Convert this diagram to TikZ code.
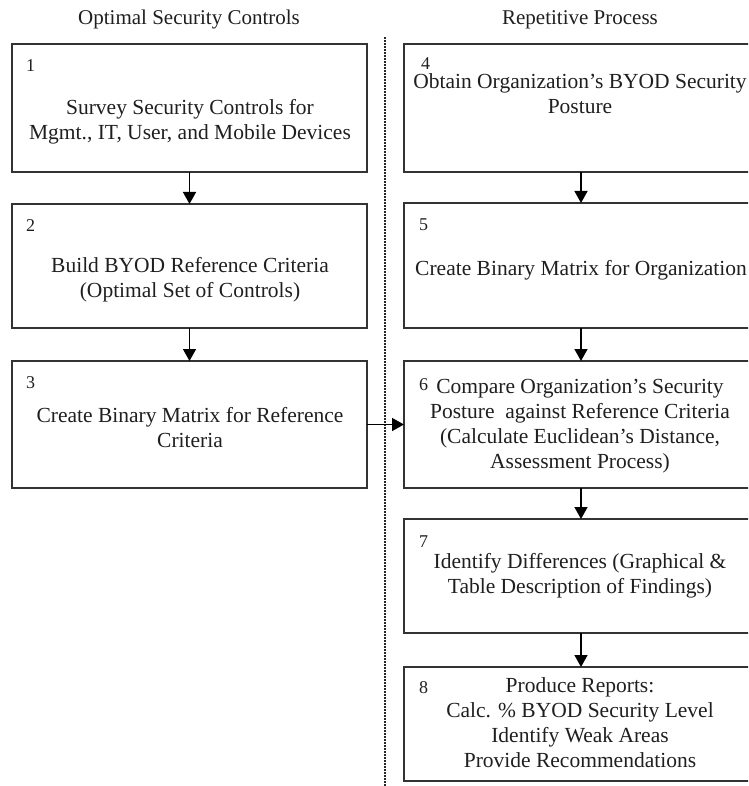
\documentclass[tikz,border=0pt]{standalone}
\usepackage{fontspec}
\setmainfont{Liberation Serif}
\usetikzlibrary{arrows.meta}
\begin{document}
\begin{tikzpicture}[x=1pt,y=-1pt,
  every node/.style={inner sep=0pt,outer sep=0pt,text=black!88},
  procbox/.style={draw=black!80,line width=1.3pt,rectangle,minimum width=#1},
  procbox/.default=355pt,
  body/.style={align=center,anchor=base,font=\fontsize{21.5}{25}\selectfont},
  num/.style={anchor=base west,font=\fontsize{18}{20}\selectfont},
  heading/.style={anchor=base,font=\fontsize{21}{24}\selectfont},
  flow/.style={draw=black,line width=1.5pt,-{Triangle[width=13pt,length=12pt]}},
  divider/.style={draw=black!85,line width=2.2pt,dash pattern=on 1.7pt off 1.3pt}
]
\useasboundingbox (0,0) rectangle (748,786);
\clip (0,0) rectangle (748,786);

% column headings
\node[heading] (hleft)  at (189,25) {Optimal Security Controls};
\node[heading] (hright) at (580,25) {Repetitive Process};

% dotted separator between the two columns
\coordinate (dtop) at (385,37);
\coordinate (dbot) at (385,790);
\draw[divider] (dtop) -- (dbot);

% left column boxes
\node[procbox, minimum height=128pt] (b1) at (189.5,108) {};
\node[procbox, minimum height=124pt] (b2) at (189.5,266) {};
\node[procbox, minimum height=127pt] (b3) at (189.5,424.5) {};

% right column boxes (run past the right edge)
\node[procbox=356pt, minimum height=128pt] (b4) at (582,108) {};
\node[procbox=356pt, minimum height=125pt] (b5) at (582,265.5) {};
\node[procbox=356pt, minimum height=127pt] (b6) at (582,424.5) {};
\node[procbox=356pt, minimum height=114pt] (b7) at (582,576) {};
\node[procbox=356pt, minimum height=114pt] (b8) at (582,724) {};

% step numbers
\node[num] (n1) at (26,72) {1};
\node[num] (n2) at (26,232) {2};
\node[num] (n3) at (26,388) {3};
\node[num] (n4) at (421,70) {4};
\node[num] (n5) at (419,230) {5};
\node[num] (n6) at (419,390) {6};
\node[num] (n7) at (419,547) {7};
\node[num] (n8) at (419,693) {8};

% step texts (anchored on the baseline of the last line)
\node[body] (t1) at (190,139.5) {Survey Security Controls for\\Mgmt., IT, User, and Mobile Devices};
\node[body] (t2) at (190,297.5) {Build BYOD Reference Criteria\\(Optimal Set of Controls)};
\node[body] (t3) at (190,447) {Create Binary Matrix for Reference\\Criteria};
\node[body] (t4) at (580,114) {Obtain Organization’s BYOD Security\\Posture};
\node[body] (t5) at (581,275) {Create Binary Matrix for Organization};
\node[body] (t6) at (580,468) {Compare Organization’s Security\\Posture\ \ against Reference Criteria\\(Calculate Euclidean’s Distance,\\Assessment Process)};
\node[body] (t7) at (580,593) {Identify Differences (Graphical \&\\Table Description of Findings)};
\node[body] (t8) at (580,767) {Produce Reports:\\Calc. \% BYOD Security Level\\Identify Weak Areas\\Provide Recommendations};

% connectors
\draw[flow] (b1.south) -- (b2.north);
\draw[flow] (b2.south) -- (b3.north);
\draw[flow] (b3.east) -- (b6.west);
\draw[flow] (b4.south -| 581,0) -- (b5.north -| 581,0);
\draw[flow] (b5.south -| 581,0) -- (b6.north -| 581,0);
\draw[flow] (b6.south -| 581,0) -- (b7.north -| 581,0);
\draw[flow] (b7.south -| 581,0) -- (b8.north -| 581,0);
\end{tikzpicture}
\end{document}
